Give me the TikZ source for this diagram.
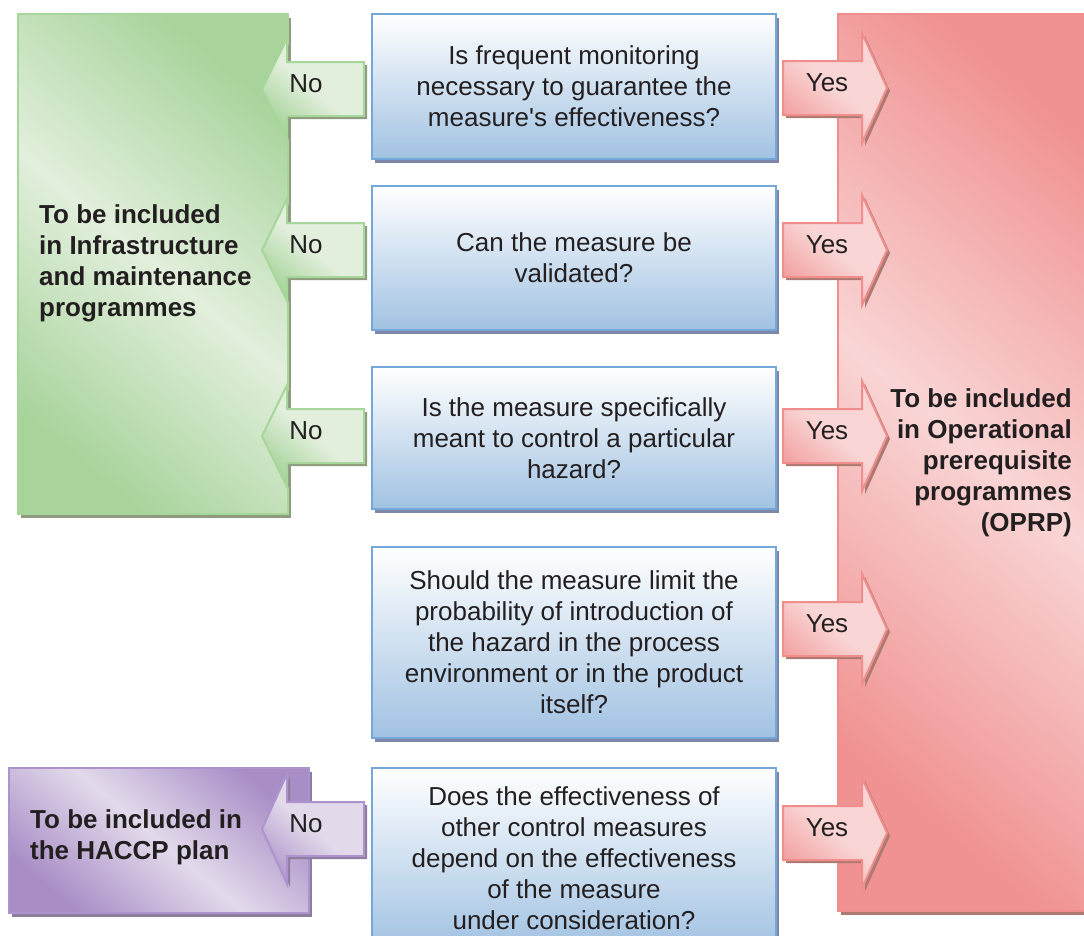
\documentclass[tikz,border=0pt]{standalone}
\usepackage{fontspec}
\setmainfont{Liberation Sans}
\usetikzlibrary{shadows}

\definecolor{txt}{HTML}{231F20}
% blue question boxes
\definecolor{bborder}{HTML}{74A8DA}
\definecolor{bbot}{HTML}{A1C2E2}
\definecolor{bshadow}{HTML}{7D86A6}
% green
\definecolor{gdark}{HTML}{A8D49C}
\definecolor{glight}{HTML}{E2EFDC}
\definecolor{gborder}{HTML}{A6D69A}
\definecolor{gshadow}{HTML}{8E9B7E}
% red
\definecolor{rdark}{HTML}{F09291}
\definecolor{rlight}{HTML}{F9D5D5}
\definecolor{rborder}{HTML}{F08E8E}
\definecolor{rshadow}{HTML}{AC7A70}
% purple
\definecolor{pdark}{HTML}{A88DC6}
\definecolor{plight}{HTML}{E2DAEB}
\definecolor{pborder}{HTML}{AD94CF}
\definecolor{pshadow}{HTML}{8E7E9E}

\tikzset{
  txtfont/.style={font=\fontsize{26}{31}\selectfont, text=txt},
  qbox/.style={draw=bborder, line width=2pt, top color=white, bottom color=bbot,
    anchor=north west, align=center, txtfont, inner sep=0pt, minimum width=404pt,
    drop shadow={shadow xshift=3pt, shadow yshift=-4pt, fill=bshadow, opacity=1}},
  bigbox/.style={line width=2pt, anchor=north west, inner sep=0pt},
  greenbox/.style={bigbox, draw=gborder, top color=gdark, bottom color=gdark, middle color=glight, shading angle=-40,
    drop shadow={shadow xshift=3pt, shadow yshift=-4pt, fill=gshadow, opacity=1}},
  redbox/.style={bigbox, draw=rborder, top color=rdark, bottom color=rdark, middle color=rlight, shading angle=-40,
    drop shadow={shadow xshift=3pt, shadow yshift=-4pt, fill=rshadow, opacity=1}},
  purplebox/.style={bigbox, draw=pborder, top color=pdark, bottom color=pdark, middle color=plight, shading angle=-40,
    drop shadow={shadow xshift=3pt, shadow yshift=-4pt, fill=pshadow, opacity=1}},
  bigtxt/.style={txtfont, font=\fontsize{26}{31}\selectfont\bfseries, inner sep=0pt},
  lbl/.style={txtfont, inner sep=0pt},
  garrow/.style={draw=gborder, line width=2pt, line join=miter, top color=glight, bottom color=gdark, middle color=glight, shading angle=-40},
  rarrow/.style={draw=rborder, line width=2pt, line join=miter, top color=rlight, bottom color=rdark!80!rlight, middle color=rlight, shading angle=-40},
  parrow/.style={draw=pborder, line width=2pt, line join=miter, top color=plight, bottom color=pdark!80!plight, middle color=plight, shading angle=-40},
}

% left-pointing "No" arrow: #1 centre y, #2 half head height, #3 style, #4 shadow colour
\newcommand\leftblock[4]{%
  \fill[#4, shift={(3,3)}] (262,#1) -- (287,#1-#2) -- (287,#1-27) -- (364,#1-27)
     -- (364,#1+27) -- (287,#1+27) -- (287,#1+#2) -- cycle;
  \draw[#3] (262,#1) -- (287,#1-#2) -- (287,#1-27) -- (364,#1-27)
     -- (364,#1+27) -- (287,#1+27) -- (287,#1+#2) -- cycle;}
% right-pointing "Yes" arrow: #1 centre y
\newcommand\rightblock[1]{%
  \fill[rshadow, shift={(3,3)}] (887,#1) -- (862,#1-55) -- (862,#1-27) -- (783,#1-27)
     -- (783,#1+27) -- (862,#1+27) -- (862,#1+55) -- cycle;
  \draw[rarrow] (887,#1) -- (862,#1-55) -- (862,#1-27) -- (783,#1-27)
     -- (783,#1+27) -- (862,#1+27) -- (862,#1+55) -- cycle;}

\begin{document}
\begin{tikzpicture}[x=1pt, y=-1pt]
\useasboundingbox (0,0) rectangle (1084,935);

% outcome boxes
\node[greenbox, minimum width=270pt, minimum height=500pt] (infra) at (17,13) {};
\node[redbox, minimum width=300pt, minimum height=897pt] (oprp) at (837,13) {};
\node[purplebox, minimum width=300pt, minimum height=145pt] (haccp) at (8,767) {};

\node[bigtxt, anchor=west, align=left] (infratxt) at (39,263)
  {To be included\\in Infrastructure\\and maintenance\\programmes};
\node[bigtxt, anchor=east, align=right] (oprptxt) at (1072,463)
  {To be included\\in Operational\\prerequisite\\programmes\\(OPRP)};
\node[bigtxt, anchor=west, align=left] (haccptxt) at (30,837)
  {To be included in\\the HACCP plan};

% question boxes
\node[qbox, minimum height=145pt] (q1) at (371,13)
  {Is frequent monitoring\\necessary to guarantee the\\measure\textquotesingle s effectiveness?};
\node[qbox, minimum height=144pt] (q2) at (371,185)
  {Can the measure be\\validated?};
\node[qbox, minimum height=142pt] (q3) at (371,366)
  {Is the measure specifically\\meant to control a particular\\hazard?};
\node[qbox, minimum height=191pt] (q4) at (371,546)
  {Should the measure limit the\\probability of introduction of\\the hazard in the process\\environment or in the product\\itself?};
\node[qbox, minimum height=181pt] (q5) at (371,767)
  {Does the effectiveness of\\other control measures\\depend on the effectiveness\\of the measure\\under consideration?};

% No arrows
\leftblock{89}{50}{garrow}{gshadow}
\leftblock{250}{51}{garrow}{gshadow}
\leftblock{436}{51}{garrow}{gshadow}
\leftblock{829}{55}{parrow}{pshadow}
\node[lbl] (no1) at (306,84) {No};
\node[lbl] (no2) at (306,245) {No};
\node[lbl] (no3) at (306,431) {No};
\node[lbl] (no5) at (306,824) {No};

% Yes arrows
\rightblock{88}
\rightblock{250}
\rightblock{436}
\rightblock{629}
\rightblock{833}
\node[lbl] (yes1) at (827,83) {Yes};
\node[lbl] (yes2) at (827,245) {Yes};
\node[lbl] (yes3) at (827,431) {Yes};
\node[lbl] (yes4) at (827,624) {Yes};
\node[lbl] (yes5) at (827,828) {Yes};
\end{tikzpicture}
\end{document}
